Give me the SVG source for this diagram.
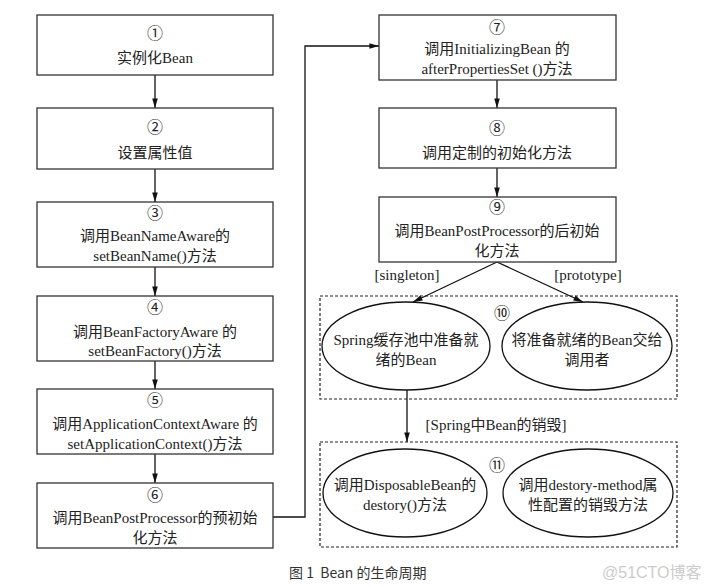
<svg xmlns="http://www.w3.org/2000/svg" width="709" height="587" viewBox="0 0 709 587">
<style>
.box{fill:#fff;stroke:#333;stroke-width:1.3}
.ell{fill:#fff;stroke:#111;stroke-width:1.3}
.dash{fill:none;stroke:#222;stroke-width:1.2;stroke-dasharray:3,2}
.t{font-family:"Liberation Serif","Noto Sans CJK SC",serif;font-size:15px;fill:#222;text-anchor:middle}
.n{font-size:16px}
.c{stroke:#111;stroke-width:1.3;fill:none}
.cap{font-family:"Noto Sans CJK SC","Liberation Sans",sans-serif;font-size:14px;fill:#333;white-space:pre}
.wm{font-family:"Liberation Sans","Noto Sans CJK SC",sans-serif;font-size:16px;fill:#ccc}
</style>
<defs>
<marker id="ah" viewBox="0 0 12 10" refX="12" refY="5" markerWidth="10" markerHeight="8" orient="auto" markerUnits="userSpaceOnUse">
<path d="M0,1.5 L12,5 L0,8.5 z" fill="#111"/>
</marker>
</defs>
<rect width="709" height="587" fill="#fff"/>
<g id="connectors">
<line class="c" x1="155" y1="75" x2="155" y2="108" marker-end="url(#ah)"/>
<line class="c" x1="155" y1="169" x2="155" y2="202" marker-end="url(#ah)"/>
<line class="c" x1="155" y1="267" x2="155" y2="296" marker-end="url(#ah)"/>
<line class="c" x1="155" y1="361" x2="155" y2="389" marker-end="url(#ah)"/>
<line class="c" x1="155" y1="454" x2="155" y2="483" marker-end="url(#ah)"/>
<polyline class="c" points="273,517 305,517 305,46 379,46" marker-end="url(#ah)"/>
<line class="c" x1="497" y1="80" x2="497" y2="108" marker-end="url(#ah)"/>
<line class="c" x1="497" y1="168" x2="497" y2="197" marker-end="url(#ah)"/>
<line class="c" x1="497" y1="262" x2="413" y2="302" marker-end="url(#ah)"/>
<line class="c" x1="497" y1="262" x2="583" y2="302" marker-end="url(#ah)"/>
<line class="c" x1="407" y1="390" x2="407" y2="442" marker-end="url(#ah)"/>
<text class="t" x="407" y="280">[singleton]</text>
<text class="t" x="588" y="280">[prototype]</text>
<text class="t" x="496" y="430">[Spring中Bean的销毁]</text>
</g>
<g id="n1"><rect class="box" x="37" y="15" width="236" height="60"/><text class="t n" x="155" y="39">①</text><text class="t" x="155" y="63">实例化Bean</text></g>
<g id="n2"><rect class="box" x="37" y="108" width="236" height="61"/><text class="t n" x="155" y="133">②</text><text class="t" x="155" y="158">设置属性值</text></g>
<g id="n3"><rect class="box" x="37" y="202" width="236" height="65"/><text class="t n" x="155" y="219">③</text><text class="t" x="155" y="241">调用BeanNameAware的</text><text class="t" x="155" y="261">setBeanName()方法</text></g>
<g id="n4"><rect class="box" x="37" y="296" width="236" height="65"/><text class="t n" x="155" y="313">④</text><text class="t" x="155" y="337">调用BeanFactoryAware 的</text><text class="t" x="155" y="356">setBeanFactory()方法</text></g>
<g id="n5"><rect class="box" x="37" y="389" width="236" height="65"/><text class="t n" x="155" y="406">⑤</text><text class="t" x="155" y="429">调用ApplicationContextAware 的</text><text class="t" x="155" y="449">setApplicationContext()方法</text></g>
<g id="n6"><rect class="box" x="37" y="483" width="236" height="65"/><text class="t n" x="155" y="501">⑥</text><text class="t" x="155" y="523">调用BeanPostProcessor的预初始</text><text class="t" x="155" y="543">化方法</text></g>
<g id="n7"><rect class="box" x="379" y="15" width="237" height="65"/><text class="t n" x="497" y="33">⑦</text><text class="t" x="497" y="54">调用InitializingBean 的</text><text class="t" x="497" y="74">afterPropertiesSet ()方法</text></g>
<g id="n8"><rect class="box" x="379" y="108" width="237" height="60"/><text class="t n" x="497" y="134">⑧</text><text class="t" x="497" y="158">调用定制的初始化方法</text></g>
<g id="n9"><rect class="box" x="379" y="197" width="237" height="65"/><text class="t n" x="497" y="213">⑨</text><text class="t" x="497" y="236">调用BeanPostProcessor的后初始</text><text class="t" x="497" y="256">化方法</text></g>
<g id="g10"><rect class="dash" x="320" y="296" width="357" height="103"/><text class="t n" x="502" y="319">⑩</text></g>
<g id="n10a"><ellipse class="ell" cx="406" cy="346" rx="84" ry="44"/><text class="t" x="406" y="345">Spring缓存池中准备就</text><text class="t" x="406" y="365">绪的Bean</text></g>
<g id="n10b"><ellipse class="ell" cx="587" cy="346" rx="85" ry="44"/><text class="t" x="587" y="345">将准备就绪的Bean交给</text><text class="t" x="587" y="365">调用者</text></g>
<g id="g11"><rect class="dash" x="320" y="442" width="357" height="105"/><text class="t n" x="497" y="471">⑪</text></g>
<g id="n11a"><ellipse class="ell" cx="405" cy="493" rx="82" ry="44"/><text class="t" x="405" y="490">调用DisposableBean的</text><text class="t" x="405" y="510">destory()方法</text></g>
<g id="n11b"><ellipse class="ell" cx="588" cy="493" rx="85" ry="44"/><text class="t" x="588" y="490">调用destory-method属</text><text class="t" x="588" y="510">性配置的销毁方法</text></g>
<text class="cap" x="289" y="578">图 1  Bean 的生命周期</text>
<text class="wm" x="602" y="578">@51CTO博客</text>
</svg>
